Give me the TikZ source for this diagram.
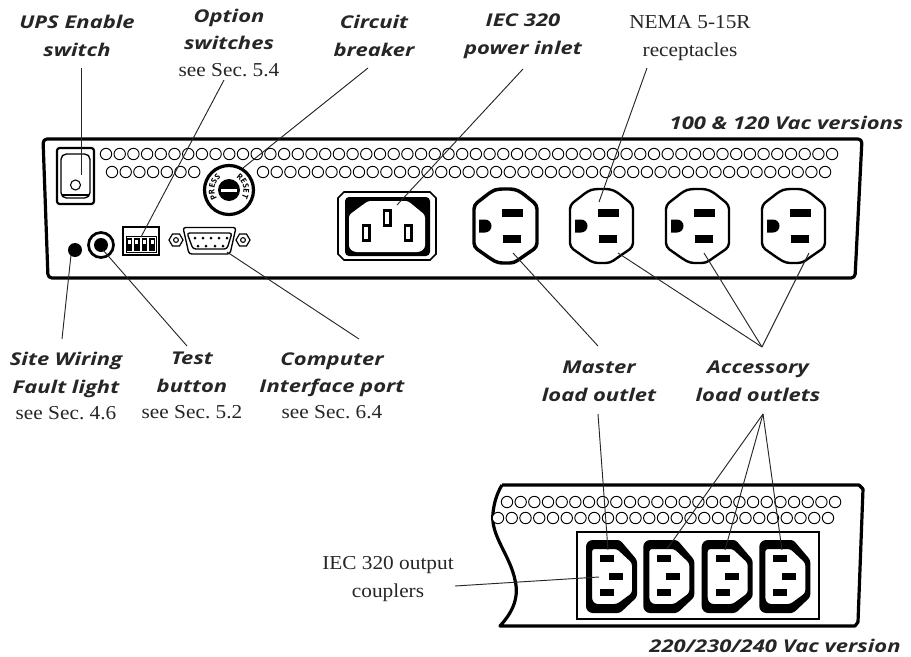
\documentclass[tikz,border=0pt]{standalone}
\usepackage{fontspec}
\setmainfont[FakeStretch=1.08]{Liberation Serif}
\setsansfont[FakeStretch=1.25]{Open Sans}
\newfontfamily\breakerfont{Open Sans}
\usepackage{tikz}
\usetikzlibrary{decorations.text}

\begin{document}
\begin{tikzpicture}[x=0.75pt,y=-0.75pt,
    heavy line/.style={line width=2.4pt,line join=round},
    hole/.style={draw,line width=0.7pt,fill=white},
    leader/.style={line width=0.7pt,black!85},
    part label/.style={align=center,inner sep=0pt,text=black!85,
      font=\frenchspacing\fontsize{13.2}{20.7}\selectfont\sffamily\bfseries\itshape},
    plain label/.style={align=center,inner sep=0pt,text=black!85,
      font=\frenchspacing\fontsize{14.8}{20.7}\selectfont}]
  \useasboundingbox (0,0) rectangle (911,657);

  % upper panel
  \draw[heavy line,rounded corners=3pt] (43,139) -- (862,139) -- (855,278) -- (48,278) -- cycle;
  \foreach \n in {0,...,53} \draw[hole] ({106+13.7*\n},154) circle (5.7);
  \foreach \n in {0,...,6} \draw[hole] ({112+13.7*\n},172) circle (5.7);
  \foreach \n in {0,...,41} \draw[hole] ({263+13.71*\n},172) circle (5.7);

  % enable switch
  \draw[line width=1.6pt,rounded corners=2pt] (57,148) rectangle (94,204);
  \draw[line width=1pt,rounded corners=4pt] (61,154) rectangle (90,198);
  \draw[line width=0.8pt] (62,195) -- (89,195);
  \draw[line width=0.8pt] (75.5,185) circle (5);

  % circuit breaker
  \draw[heavy line,fill=white] (229,190) circle (24.5);
  \fill (229,190) circle (11);
  \fill[white] (221,188.5) rectangle (237,191.5);
  \path[decorate,decoration={text along path,text align=center,
      text={|\fontsize{6}{6}\selectfont\breakerfont\bfseries|PRESS}}]
    (229,190) ++(135:14.5) arc (135:245:14.5);
  \path[decorate,decoration={text along path,text align=center,
      text={|\fontsize{6}{6}\selectfont\breakerfont\bfseries|RESET}}]
    (229,190) ++(290:14.5) arc (290:400:14.5);

  % fault light and test button
  \fill (75,250) circle (7);
  \draw[line width=2pt] (101,245) circle (12.5);
  \fill (101,245) circle (7);

  % option switches
  \draw[line width=0.9pt] (123,227) rectangle (159,255);
  \draw[line width=0.7pt] (126,236) -- (156,236) -- (156,252) -- (126,252) -- cycle;
  \foreach \n in {0,1,2,3} {
    \fill ({126.5+7.6*\n},238) rectangle ({132+7.6*\n},250.5);
    \fill[white] ({127.8+7.6*\n},240) rectangle ({130.8+7.6*\n},244);
  }

  % computer port
  \draw[line width=1pt,rounded corners=2pt] (183,227.5) -- (236,227.5) -- (230,254) -- (189,254) -- cycle;
  \draw[line width=1pt,rounded corners=2pt] (187,233) -- (232,233) -- (227,249) -- (193,249) -- cycle;
  \foreach \px in {195,203,211,219,227} \fill (\px,238) circle (1.5);
  \foreach \px in {198,206,215,223} \fill (\px,246) circle (1.5);
  \foreach \px in {176,243} {
    \draw[line width=0.9pt] ({\px-7},240) -- ({\px-3.5},234) -- ({\px+3.5},234) -- ({\px+7},240) -- ({\px+3.5},246) -- ({\px-3.5},246) -- cycle;
    \draw[line width=0.8pt] (\px,240) circle (2.4);
  }

  % power inlet
  \draw[line width=1.2pt] (344,192) -- (430,192) -- (436,198) -- (436,254) -- (430,260) -- (344,260) -- (338,254) -- (338,198) -- cycle;
  \fill[rounded corners=3pt] (345,197) rectangle (430,256);
  \fill[white,rounded corners=2pt] (349,215) -- (368,201) -- (408,201) -- (425,215) -- (425,248) -- (420,252) -- (354,252) -- (349,248) -- cycle;
  \foreach \px/\py in {387/218,366/233,408/233} {
    \fill ({\px-4.5},{\py-9}) rectangle ({\px+4.5},{\py+9});
    \fill[white] ({\px-2},{\py-6}) rectangle ({\px+2},{\py+6});
  }

  % receptacles
  \foreach \ox/\lw in {474/2.6pt,570/1.8pt,666/1.8pt,762/1.8pt} {
    \draw[line width=\lw,rounded corners=3pt] (\ox,205) -- ({\ox+18},191) -- ({\ox+24},189) -- ({\ox+40},189) -- ({\ox+47},192) -- ({\ox+63},205)
      -- ({\ox+63},247) -- ({\ox+47},258) -- ({\ox+40},263) -- ({\ox+24},263) -- ({\ox+17},259) -- (\ox,247) -- cycle;
    \fill ({\ox+28},209) rectangle ({\ox+49},217);
    \fill ({\ox+29},235) rectangle ({\ox+47},243);
    \fill (\ox+5,219.5) -- (\ox+11,219.5) arc (-90:90:6.5) -- (\ox+5,232.5) -- cycle;
  }

  % lower panel
  \draw[heavy line] (502,485) -- (859,485) -- (863,489) -- (858,622) -- (855,626) -- (500,626)
    .. controls (510,615) and (520,600) .. (515,580)
    .. controls (510,555) and (490,535) .. (493,513)
    .. controls (494,503) and (497,493) .. (502,485);
  \foreach \n in {0,...,24} \draw[hole] ({507+13.67*\n},502) circle (5.7);
  \foreach \n in {0,...,24} \draw[hole] ({498+13.75*\n},518) circle (5.7);
  \draw[line width=1.6pt] (577,532) rectangle (819,619);
  \foreach \ox in {586,643.3,701.7,759.3} {
    \fill[even odd rule,rounded corners=2pt] (\ox,544) -- ({\ox+4},540) -- ({\ox+34},540) -- ({\ox+51},560) -- ({\ox+51},597) -- ({\ox+34},613) -- ({\ox+4},613) -- (\ox,609) -- cycle
      ({\ox+6},549) -- ({\ox+31},549) -- ({\ox+46},563) -- ({\ox+46},593) -- ({\ox+31},604) -- ({\ox+9},604) -- ({\ox+6},600) -- cycle;
    \fill ({\ox+14},555) rectangle ({\ox+28},562);
    \fill ({\ox+23},573) rectangle ({\ox+37},580);
    \fill ({\ox+14},589) rectangle ({\ox+28},596);
  }

  % labels
  \node[part label] (enable) at (77,36) {UPS Enable\\switch};
  \node[part label,anchor=north] (option) at (229,8.5) {Option\\switches\\[-1pt]{\normalfont\fontsize{14.8}{15}\selectfont see Sec. 5.4}};
  \node[part label] (breaker) at (374,36) {Circuit\\breaker};
  \node[part label] (inlet) at (523,36.5) {IEC 320\\power inlet};
  \node[plain label] (nema) at (690,38) {NEMA 5-15R\\receptacles};
  \node[part label] (version1) at (786.5,123) {100 \& 120 Vac versions};
  \node[part label,anchor=north] (fault) at (66,352) {Site Wiring\\Fault light\\[-1pt]{\normalfont\fontsize{14.8}{15}\selectfont see Sec. 4.6}};
  \node[part label,anchor=north] (test) at (192,352) {Test\\button\\[-1pt]{\normalfont\fontsize{14.8}{15}\selectfont see Sec. 5.2}};
  \node[part label,anchor=north] (port) at (332,352) {Computer\\Interface port\\[-1pt]{\normalfont\fontsize{14.8}{15}\selectfont see Sec. 6.4}};
  \node[part label] (master) at (599,381) {Master\\load outlet};
  \node[part label] (accessory) at (758,381) {Accessory\\load outlets};
  \node[plain label] (couplers) at (388,579) {IEC 320 output\\couplers};
  \node[part label] (version2) at (775,646) {220/230/240 Vac version};

  % leader ends
  \coordinate (enable a) at (81,68);   \coordinate (enable b) at (81,175);
  \coordinate (option a) at (224,80);  \coordinate (option b) at (141,237);
  \coordinate (breaker a) at (368,68); \coordinate (breaker b) at (243,168);
  \coordinate (inlet a) at (523,69);   \coordinate (inlet b) at (397,205);
  \coordinate (nema a) at (647,68);    \coordinate (nema b) at (599,202);
  \coordinate (fault a) at (62,339);   \coordinate (fault b) at (71,255);
  \coordinate (test a) at (187,346);   \coordinate (test b) at (103,250);
  \coordinate (port a) at (359,339);   \coordinate (port b) at (227,252);
  \coordinate (master a) at (598,346); \coordinate (master b) at (513,253);
  \coordinate (acc a) at (762,347);
  \coordinate (acc 1) at (618,253);    \coordinate (acc 2) at (704,253);
  \coordinate (acc 3) at (809,253);
  \coordinate (low a) at (598,414);    \coordinate (low b) at (608,550);
  \coordinate (lowacc a) at (763,414);
  \coordinate (lowacc 1) at (667,549); \coordinate (lowacc 2) at (725,550);
  \coordinate (lowacc 3) at (782,550);
  \coordinate (coupler a) at (455,586); \coordinate (coupler b) at (599,577);

  \path[leader]
    (enable a) edge (enable b)
    (option a) edge (option b)
    (breaker a) edge (breaker b)
    (inlet a) edge (inlet b)
    (nema a) edge (nema b)
    (fault a) edge (fault b)
    (test a) edge (test b)
    (port a) edge (port b)
    (master a) edge (master b)
    (acc a) edge (acc 1)
            edge (acc 2)
            edge (acc 3)
    (low a) edge (low b)
    (lowacc a) edge (lowacc 1)
               edge (lowacc 2)
               edge (lowacc 3)
    (coupler a) edge (coupler b);
\end{tikzpicture}
\end{document}
